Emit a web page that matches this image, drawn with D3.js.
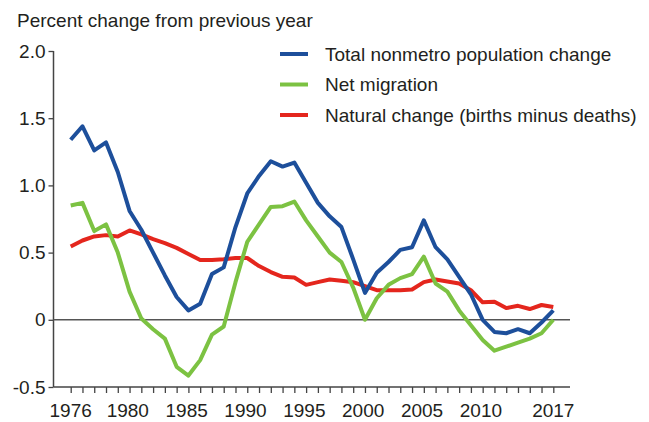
<!DOCTYPE html>
<html>
<head>
<meta charset="utf-8">
<script src="https://cdn.jsdelivr.net/npm/d3@7"></script>
<style>
  html, body { margin: 0; padding: 0; background: #fff; }
  text { font-family: "Liberation Sans", Arial, Helvetica, sans-serif; fill: #231f20; }
</style>
</head>
<body>
<svg id="chart" width="649" height="422"></svg>
<script>
// ---- data ----
const years = d3.range(1976, 2018);
const totalChange = [1.34, 1.44, 1.26, 1.32, 1.10, 0.81, 0.67, 0.50, 0.33, 0.17, 0.07, 0.12, 0.34, 0.39, 0.69, 0.94,
  1.07, 1.18, 1.14, 1.17, 1.02, 0.87, 0.77, 0.69, 0.45, 0.20, 0.35, 0.43, 0.52, 0.54, 0.74, 0.54, 0.45, 0.32, 0.19,
  0.00, -0.09, -0.10, -0.07, -0.10, -0.02, 0.07];
const netMigration = [0.85, 0.87, 0.66, 0.71, 0.50, 0.21, 0.01, -0.07, -0.14, -0.35, -0.415, -0.30, -0.11, -0.05, 0.28, 0.58,
  0.71, 0.84, 0.845, 0.88, 0.74, 0.62, 0.50, 0.43, 0.24, 0.00, 0.16, 0.26, 0.31, 0.34, 0.47, 0.27, 0.21, 0.07, -0.04,
  -0.15, -0.23, -0.20, -0.17, -0.14, -0.10, 0.00];
const naturalChange = [0.545, 0.59, 0.62, 0.63, 0.62, 0.665, 0.635, 0.60, 0.57, 0.535, 0.49, 0.445, 0.445, 0.45, 0.46, 0.46,
  0.40, 0.355, 0.32, 0.315, 0.26, 0.28, 0.30, 0.29, 0.28, 0.25, 0.22, 0.22, 0.22, 0.225, 0.28, 0.30, 0.285, 0.27, 0.22,
  0.13, 0.134, 0.087, 0.104, 0.08, 0.11, 0.095];
const seriesNames = ["Total nonmetro population change", "Net migration", "Natural change (births minus deaths)"];
const seriesColors = ["#1d4f9b", "#7cc242", "#e4261d"];
const yTicks = [-0.5, 0, 0.5, 1.0, 1.5, 2.0];
const xLabelYears = [1976, 1980, 1985, 1990, 1995, 2000, 2005, 2010, 2017];
const yTitle = "Percent change from previous year";

// ---- layout ----
const svg = d3.select("#chart");
const axisLeftX = 53.5, axisRightX = 570;
const x = d3.scaleLinear().domain([1976, 2017]).range([70.7, 553.3]);
const y = d3.scaleLinear().domain([-0.5, 2.0]).range([387, 51]);
const fontSize = 19;

// title
svg.append("text").attr("x", 17).attr("y", 27).attr("font-size", fontSize).text(yTitle);

// y axis
const yAxis = d3.axisLeft(y).tickValues(yTicks).tickSize(5).tickPadding(3)
  .tickFormat(d => d === 0 ? "0" : d3.format(".1f")(d).replace("−", "-"));
const gy = svg.append("g").attr("transform", `translate(${axisLeftX},0)`).call(yAxis);
gy.select(".domain").remove();
gy.selectAll(".tick line").attr("stroke", "#444").attr("stroke-width", 1.3);
gy.selectAll(".tick text").attr("font-size", fontSize).attr("font-family", "Liberation Sans, Arial, sans-serif").attr("fill", "#231f20");
svg.append("line").attr("x1", axisLeftX).attr("x2", axisLeftX).attr("y1", y(2.0)).attr("y2", y(-0.5))
  .attr("stroke", "#444").attr("stroke-width", 1.5);

// x axis
const xAxis = d3.axisBottom(x).tickValues(years).tickSize(6).tickFormat("");
const gx = svg.append("g").attr("transform", `translate(0,${y(-0.5)})`).call(xAxis);
gx.select(".domain").remove();
gx.selectAll(".tick line").attr("stroke", "#444").attr("stroke-width", 1.3);
svg.append("line").attr("x1", axisLeftX).attr("x2", axisRightX).attr("y1", y(-0.5)).attr("y2", y(-0.5))
  .attr("stroke", "#444").attr("stroke-width", 1.5);
// x labels (the reference centres interior labels about one tick to the right)
const step = x(1977) - x(1976);
svg.append("g").selectAll("text").data(xLabelYears).join("text")
  .attr("x", d => x(d) + ((d === 1976 || d === 2017) ? 0 : step * 0.85))
  .attr("y", 417).attr("text-anchor", "middle").attr("font-size", fontSize).text(d => d);

// zero line
svg.append("line").attr("x1", axisLeftX).attr("x2", axisRightX).attr("y1", y(0)).attr("y2", y(0))
  .attr("stroke", "#555").attr("stroke-width", 1.5);

// lines
const allSeries = [totalChange, netMigration, naturalChange];
const line = d3.line().x((d, i) => x(years[i])).y(d => y(d)).curve(d3.curveLinear);
// draw order: red underneath, then green, blue on top
[2, 1, 0].forEach(k => {
  svg.append("path").datum(allSeries[k]).attr("d", line).attr("fill", "none")
    .attr("stroke", seriesColors[k]).attr("stroke-width", 4).attr("stroke-linejoin", "round");
});

// legend
const legend = svg.append("g");
seriesNames.forEach((name, k) => {
  const ly = 54 + k * 30.5;
  legend.append("line").attr("x1", 280).attr("x2", 308).attr("y1", ly).attr("y2", ly)
    .attr("stroke", seriesColors[k]).attr("stroke-width", 4);
  legend.append("text").attr("x", 325).attr("y", ly).attr("dy", "0.35em").attr("font-size", fontSize).text(name);
});
</script>
</body>
</html>
